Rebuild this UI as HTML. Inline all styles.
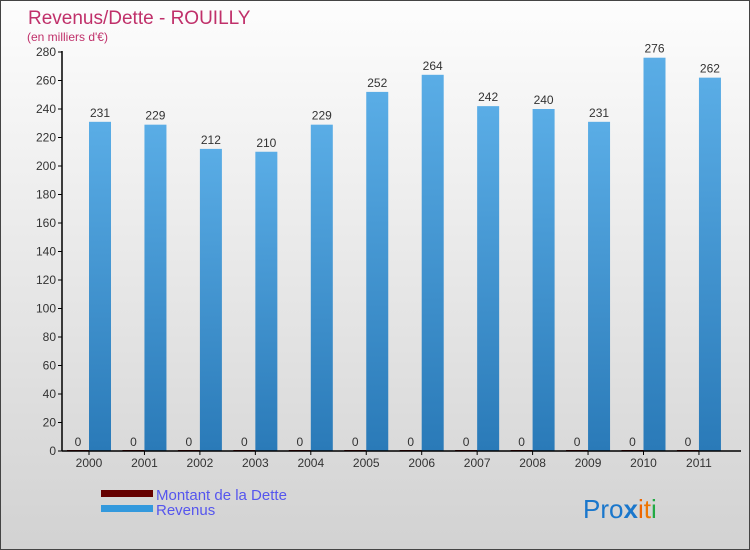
<!DOCTYPE html>
<html><head><meta charset="utf-8"><style>
body{margin:0}
#c{width:750px;height:550px;position:relative;background:linear-gradient(#fdfdfd,#d2d2d2);border:1px solid #444;box-sizing:border-box;font-family:"Liberation Sans",sans-serif;overflow:hidden}
text{font-family:"Liberation Sans",sans-serif}
</style></head><body>
<div id="c">
<svg id="s" width="750" height="550">
<text x="27" y="23" font-size="19" fill="#c0306a">Revenus/Dette - ROUILLY</text>
<text x="26" y="40" font-size="12" fill="#c0306a">(en milliers d'€)</text>
<g id="g"></g>
<rect x="100" y="489" width="52" height="7" fill="#660000"/>
<text x="155" y="499" font-size="15" fill="#5555ee">Montant de la Dette</text>
<rect x="100" y="504" width="52" height="7" fill="#3399dd"/>
<text x="155" y="514" font-size="15" fill="#5555ee">Revenus</text>
<text x="582" y="517" font-size="26" fill="#1a77cc">Pro<tspan fill="#1a77cc" font-weight="bold">x</tspan><tspan fill="#ee6600">i</tspan><tspan fill="#ee7700">t</tspan><tspan fill="#22aa44">i</tspan></text>
</svg>
<script>
const years=["2000","2001","2002","2003","2004","2005","2006","2007","2008","2009","2010","2011"];
const revenus=[231,229,212,210,229,252,264,242,240,231,276,262];
const dette=[0,0,0,0,0,0,0,0,0,0,0,0];
const yTicks=[0,20,40,60,80,100,120,140,160,180,200,220,240,260,280];
const NS="http://www.w3.org/2000/svg";
const g=document.getElementById('g');
const y=v=>450-v*(399/280);
const x=i=>88+i*55.45;
function el(t,a){const e=document.createElementNS(NS,t);for(const k in a)e.setAttribute(k,a[k]);g.appendChild(e);return e;}
const defs=el('defs',{});
defs.innerHTML='<linearGradient id="bg" x1="0" y1="0" x2="0" y2="1"><stop offset="0" stop-color="#5aade6"/><stop offset="1" stop-color="#2a7ab8"/></linearGradient>';
yTicks.forEach(v=>{
 const t=el('line',{x1:57,x2:61,y1:y(v),y2:y(v),stroke:'#000'});
 
 
 const l=el('text',{x:55,y:y(v)+4,'font-size':12,'text-anchor':'end',fill:'#333'});
 l.textContent=v;
 
 
});
years.forEach((yr,i)=>{
 const cx=x(i);
 const d=el('rect',{x:cx-22,y:y(dette[i])-1,width:22,height:Math.max(1,450-y(dette[i])),fill:'#660000'});
 
 
 const dl=el('text',{x:cx-11,y:y(dette[i])-5,'font-size':12,'text-anchor':'middle',fill:'#333'});
 dl.textContent=dette[i];
 
 
 const r=el('rect',{x:cx,y:y(revenus[i]),width:22,height:450-y(revenus[i]),fill:'url(#bg)'});
 
 
 const rl=el('text',{x:cx+11,y:y(revenus[i])-5,'font-size':12,'text-anchor':'middle',fill:'#333'});
 rl.textContent=revenus[i];
 
 
 const tk=el('line',{x1:cx,x2:cx,y1:450,y2:454,stroke:'#000'});
 
 
 const xl=el('text',{x:cx,y:466,'font-size':12,'text-anchor':'middle',fill:'#333'});
 xl.textContent=yr;
 
 
});
const ya=el('line',{x1:61,x2:61,y1:50,y2:450,stroke:'#000','stroke-width':1.5});


const xa=el('line',{x1:61,x2:740,y1:450,y2:450,stroke:'#000','stroke-width':1.5});


</script>
</div>
</body></html>
